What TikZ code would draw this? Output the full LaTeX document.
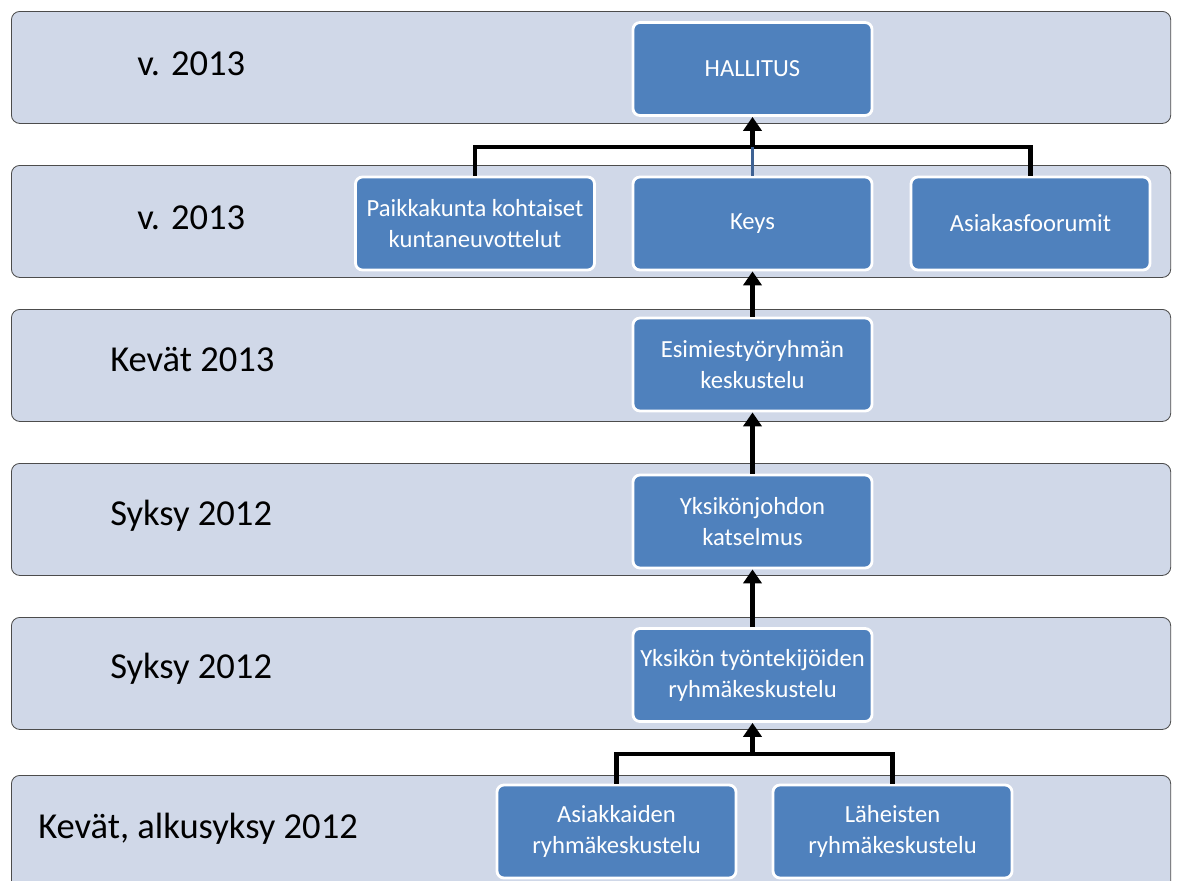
\documentclass[tikz,border=0pt]{standalone}
\usepackage{fontspec}
\setmainfont{Carlito}
\usepackage{tikz}
\usetikzlibrary{arrows.meta}
\definecolor{bandfill}{RGB}{208,216,232}
\definecolor{boxfill}{RGB}{79,129,189}
\definecolor{feedblue}{RGB}{62,98,148}

\begin{document}
\begin{tikzpicture}[
   x=0.025cm,y=-0.025cm,
   band/.style={draw=black!70,fill=bandfill,semithick,rounded corners=6pt,anchor=north west,
     inner sep=0pt,minimum width=28.975cm,minimum height=2.8cm},
   stage/.style={draw=white,line width=2pt,fill=boxfill,rounded corners=5pt,text=white,align=center,
     inner sep=2pt,minimum width=5.975cm,minimum height=2.325cm,font=\fontsize{17.5}{22}\selectfont},
   when/.style={anchor=west,inner sep=0pt,font=\fontsize{26}{30}\selectfont},
   link/.style={line width=3pt},
   up/.style={-{Triangle[length=10pt,width=13pt]},line width=3pt},
   feed/.style={feedblue,line width=2pt}]
\clip (0,0) rectangle (1177,881);
% background rows
\node[band] (row1) at (11,11) {};
\node[band] (row2) at (11,165) {};
\node[band] (row3) at (11,309) {};
\node[band] (row4) at (11,463) {};
\node[band] (row5) at (11,617) {};
\node[band,minimum height=3.2cm] (row6) at (11,775) {};
% row labels
\node[when] (t1) at (137,64) {v. 2013};
\node[when] (t2) at (137,218) {v. 2013};
\node[when] (t3) at (110,360) {Kevät 2013};
\node[when] (t4) at (110,516) {Syksy 2012};
\node[when] (t5) at (110,669) {Syksy 2012};
\node[when] (t6) at (38,829) {Kevät, alkusyksy 2012};
% stages
\node[stage] (hallitus) at (752.5,69) {HALLITUS};
\node[stage] (paikka) at (475,223.5) {Paikkakunta kohtaiset\\kuntaneuvottelut};
\node[stage] (keys) at (752.5,223.5) {Keys};
\node[stage] (foorumi) at (1030.5,223.5) {Asiakasfoorumit};
\node[stage] (esimies) at (752.5,364.5) {Esimiestyöryhmän\\keskustelu};
\node[stage] (johto) at (752.5,521.5) {Yksikönjohdon\\katselmus};
\node[stage] (tyontek) at (752.5,675) {Yksikön työntekijöiden\\ryhmäkeskustelu};
\node[stage] (asiakkaat) at (616.5,831.5) {Asiakkaiden\\ryhmäkeskustelu};
\node[stage] (laheiset) at (892.5,831.5) {Läheisten\\ryhmäkeskustelu};
\coordinate (top) at (752.5,147);
\coordinate (bottom) at (752.5,754);
% connectors
\draw[link] (paikka.north) |- (top) -| (foorumi.north);
\draw[feed] (keys.north) -- (top);
\draw[up] (top) -- (hallitus.south);
\draw[up] (esimies.north) -- (keys.south);
\draw[up] (johto.north) -- (esimies.south);
\draw[up] (tyontek.north) -- (johto.south);
\draw[link] (asiakkaat.north) |- (bottom) -| (laheiset.north);
\draw[up] (bottom) -- (tyontek.south);
\end{tikzpicture}
\end{document}
